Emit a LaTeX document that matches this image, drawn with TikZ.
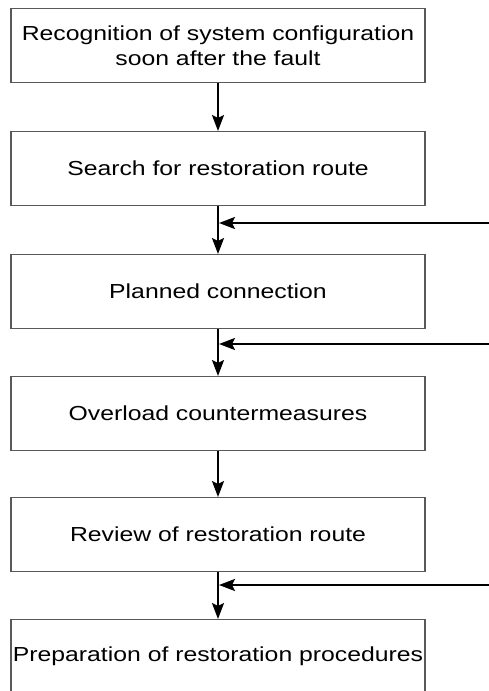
\documentclass[tikz,border=0pt]{standalone}
\usepackage{fontspec}
\setmainfont{Liberation Sans}[FakeStretch=1.22]
\usetikzlibrary{arrows.meta}
\begin{document}
\begin{tikzpicture}[x=1pt,y=-1pt,
  stepbox/.style={draw=black!65, line width=1.2pt, minimum width=414pt, minimum height=74pt,
    anchor=north, align=center, inner sep=0pt,
    font=\fontsize{20.3}{25}\selectfont},
  flow/.style={line width=2.2pt, -{Stealth[length=16pt,width=12pt,inset=3pt]}}]
  \useasboundingbox (0,0) rectangle (488,691);
  % process boxes, top to bottom
  \node[stepbox] (b1) at (218,8)   {Recognition of system configuration\\soon after the fault};
  \node[stepbox] (b2) at (218,131) {Search for restoration route};
  \node[stepbox] (b3) at (218,254) {Planned connection};
  \node[stepbox] (b4) at (218,376) {Overload countermeasures};
  \node[stepbox] (b5) at (218,497) {Review of restoration route};
  \node[stepbox] (b6) at (218,619) {Preparation of restoration procedures};
  % downward flow
  \draw[flow] (b1.south) -- (b2.north);
  \draw[flow] (b2.south) -- (b3.north);
  \draw[flow] (b3.south) -- (b4.north);
  \draw[flow] (b4.south) -- (b5.north);
  \draw[flow] (b5.south) -- (b6.north);
  % inputs joining from the right
  \coordinate (j1) at (219,223);
  \coordinate (j2) at (219,344);
  \coordinate (j3) at (219,585);
  \coordinate (r1) at (490,223);
  \coordinate (r2) at (490,344);
  \coordinate (r3) at (490,585);
  \draw[flow] (r1) -- (j1);
  \draw[flow] (r2) -- (j2);
  \draw[flow] (r3) -- (j3);
\end{tikzpicture}
\end{document}
